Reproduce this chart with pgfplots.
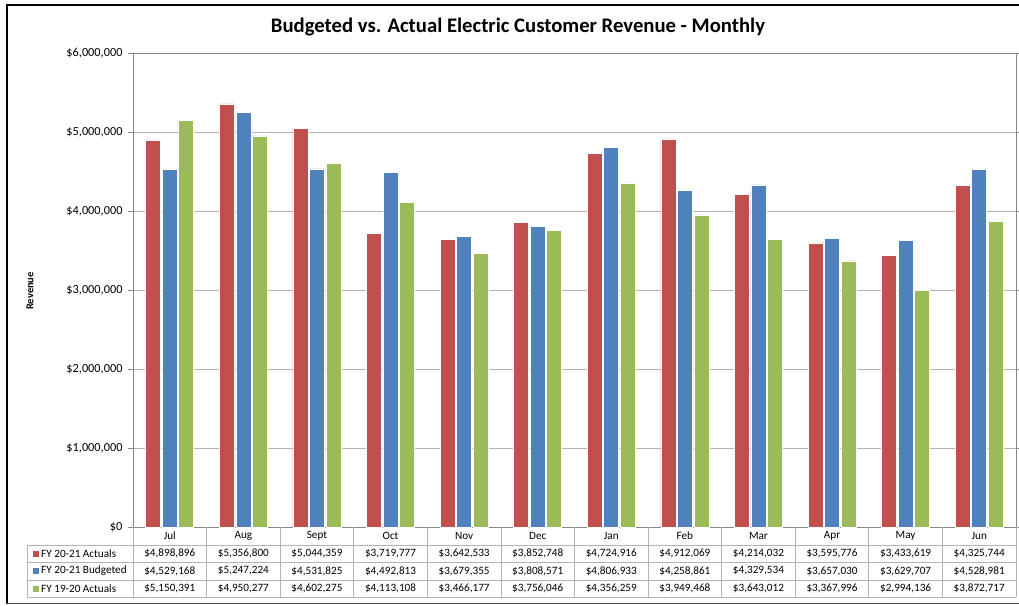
\documentclass[border=0pt]{standalone}
\usepackage{pgfplots}
\pgfplotsset{compat=1.18}
\usepackage{pgfplotstable}
\usepackage{fontspec}
\setmainfont{Carlito}

\definecolor{exred}{HTML}{C0504D}
\definecolor{exblue}{HTML}{4F81BD}
\definecolor{exgreen}{HTML}{9BBB59}
\definecolor{gridgray}{HTML}{B3B3B3}
\definecolor{framegray}{HTML}{888888}

\pgfplotstableread{
idx month act bud prev
0  Jul  4898896 4529168 5150391
1  Aug  5356800 5247224 4950277
2  Sept 5044359 4531825 4602275
3  Oct  3719777 4492813 4113108
4  Nov  3642533 3679355 3466177
5  Dec  3852748 3808571 3756046
6  Jan  4724916 4806933 4356259
7  Feb  4912069 4258861 3949468
8  Mar  4214032 4329534 3643012
9  Apr  3595776 3657030 3367996
10 May  3433619 3629707 2994136
11 Jun  4325744 4528981 3872717
}\data

\pgfkeys{/pgf/number format/.cd, fixed, precision=0, 1000 sep={,}, assume math mode=true}
\newcommand{\tabfont}{\fontsize{11.2}{13}\selectfont}

\begin{document}
\begin{tikzpicture}[x=1pt,y=1pt]
\useasboundingbox (0,0) rectangle (1019,605);

\begin{axis}[
  at={(133pt,78pt)}, anchor=south west,
  width=883pt, height=474pt, scale only axis,
  xmin=-0.5, xmax=11.5, ymin=0, ymax=6000000,
  ybar=1.5pt, bar width=15pt,
  xtick=\empty,
  ytick={0,1000000,...,6000000},
  scaled y ticks=false,
  yticklabel={\$\pgfmathprintnumber{\tick}},
  yticklabel style={font=\fontsize{12.3}{14}\selectfont, xshift=-2pt},
  ymajorgrids, grid style={gridgray, line width=0.8pt},
  axis line style={framegray, line width=0.8pt},
  tick align=outside, major tick length=5pt,
  ytick style={framegray, line width=0.8pt},
]
\addplot[fill=exred, draw=white, line width=0.6pt] table[x=idx, y=act]{\data};
\addplot[fill=exblue, draw=white, line width=0.6pt] table[x=idx, y=bud]{\data};
\addplot[fill=exgreen, draw=white, line width=0.6pt] table[x=idx, y=prev]{\data};
\end{axis}

\begin{scope}[shift={(0,605)}, y=-1pt]
  % outer frame
  \draw[black, line width=1.6pt] (7,604) -- (7,5) -- (1025,5);
  \draw[black!70, line width=0.8pt] (7,603) -- (1025,603);
  % title
  \node[font=\fontsize{20.7}{24}\selectfont\bfseries] at (518,27) {Budgeted vs. Actual Electric Customer Revenue - Monthly};
  % y label
  \node[rotate=90, font=\fontsize{10.5}{12}\selectfont\bfseries] at (30,291) {Revenue};
  % data table grid
  \foreach \k in {0,...,12} {
    \draw[gridgray, line width=0.8pt] ({133+73.583*\k},527) -- ({133+73.583*\k},597);
  }
  \draw[gridgray, line width=0.8pt] (27,545) -- (1016,545);
  \draw[gridgray, line width=0.8pt] (27,562) -- (1016,562);
  \draw[gridgray, line width=0.8pt] (27,580) -- (1016,580);
  \draw[gridgray, line width=0.8pt] (27,597) -- (1016,597);
  \draw[gridgray, line width=0.8pt] (27,545) -- (27,597);
  % legend keys
  \fill[exred]   (33,550.5) rectangle (39,556.5);
  \fill[exblue]  (33,568) rectangle (39,574);
  \fill[exgreen] (33,585.5) rectangle (39,591.5);
  \node[anchor=west, font=\tabfont, inner sep=0pt] at (41,553.5) {FY 20-21 Actuals};
  \node[anchor=west, font=\tabfont, inner sep=0pt] at (41,571) {FY 20-21 Budgeted};
  \node[anchor=west, font=\tabfont, inner sep=0pt] at (41,588.5) {FY 19-20 Actuals};
  % table cells
  \foreach \i in {0,...,11} {
    \pgfmathsetmacro{\cx}{133+73.583*(\i+0.5)}
    \pgfplotstablegetelem{\i}{month}\of\data
    \node[font=\tabfont] at (\cx,536) {\pgfplotsretval};
    \pgfplotstablegetelem{\i}{act}\of\data
    \node[font=\tabfont] at (\cx,553.5) {\$\pgfmathprintnumber{\pgfplotsretval}};
    \pgfplotstablegetelem{\i}{bud}\of\data
    \node[font=\tabfont] at (\cx,571) {\$\pgfmathprintnumber{\pgfplotsretval}};
    \pgfplotstablegetelem{\i}{prev}\of\data
    \node[font=\tabfont] at (\cx,588.5) {\$\pgfmathprintnumber{\pgfplotsretval}};
  }
\end{scope}
\end{tikzpicture}
\end{document}
